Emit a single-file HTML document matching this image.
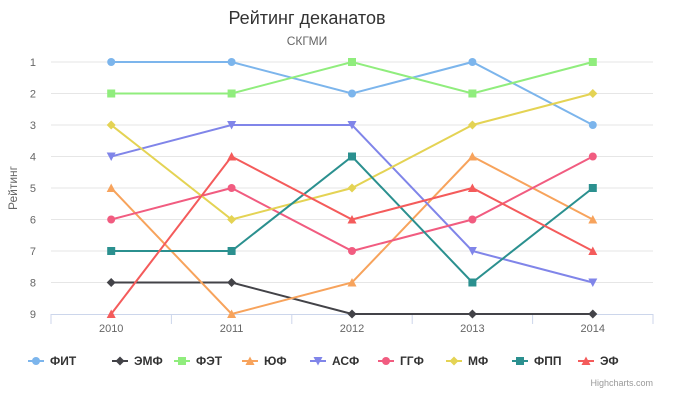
<!DOCTYPE html>
<html><head><meta charset="utf-8"><style>
body{margin:0;background:#fff;font-family:"Liberation Sans","DejaVu Sans",sans-serif}
svg text{font-family:"Liberation Sans","DejaVu Sans",sans-serif}
</style></head><body>
<svg id="c" width="673" height="404"></svg>
<script>
const categories=["2010","2011","2012","2013","2014"];
const yTicks=[1,2,3,4,5,6,7,8,9];
const seriesNames=["ФИТ","ЭМФ","ФЭТ","ЮФ","АСФ","ГГФ","МФ","ФПП","ЭФ"];
const sFIT=[1,1,2,1,3];
const sEMF=[8,8,9,9,9];
const sFET=[2,2,1,2,1];
const sUF=[5,9,8,4,6];
const sASF=[4,3,3,7,8];
const sGGF=[6,5,7,6,4];
const sMF=[3,6,5,3,2];
const sFPP=[7,7,4,8,5];
const sEF=[9,4,6,5,7];
const allSeries=[sFIT,sEMF,sFET,sUF,sASF,sGGF,sMF,sFPP,sEF];
const colors=["#7cb5ec","#434348","#90ed7d","#f7a35c","#8085e9","#f15c80","#e4d354","#2b908f","#f45b5b"];
const symbols=["circle","diamond","square","triangle","triangle-down","circle","diamond","square","triangle"];
const legendX=[36,120,182,250,318,386,454,520,586];
const NS="http://www.w3.org/2000/svg";
const svg=document.getElementById('c');
const L=51,R=653,T=62,B=314;
const bw=(R-L)/categories.length;
const x=i=>L+bw*(i+0.5);
const y=v=>T+(v-1)*(B-T)/8;
function mk(t,a,p){const e=document.createElementNS(NS,t);for(const k in a)e.setAttribute(k,a[k]);(p||svg).appendChild(e);return e;}
function sym(s,cx,cy,c,g){
 if(s==="circle")return mk('circle',{cx,cy,r:4,fill:c},g);
 if(s==="square")return mk('rect',{x:cx-4,y:cy-4,width:8,height:8,fill:c},g);
 if(s==="diamond")return mk('path',{d:`M${cx} ${cy-4.5}L${cx+4.5} ${cy}L${cx} ${cy+4.5}L${cx-4.5} ${cy}Z`,fill:c},g);
 if(s==="triangle")return mk('path',{d:`M${cx} ${cy-4.5}L${cx+4.5} ${cy+4}L${cx-4.5} ${cy+4}Z`,fill:c},g);
 return mk('path',{d:`M${cx} ${cy+4.5}L${cx+4.5} ${cy-4}L${cx-4.5} ${cy-4}Z`,fill:c},g);
}
let e;
e=mk('text',{x:307,y:24,'text-anchor':'middle','font-size':18,fill:'#333'});e.textContent="Рейтинг деканатов";

e=mk('text',{x:307,y:45,'text-anchor':'middle','font-size':12,fill:'#666'});e.textContent="СКГМИ";

e=mk('text',{x:17,y:188,'text-anchor':'middle','font-size':12,fill:'#666',transform:'rotate(-90 17 188)'});e.textContent="Рейтинг";

yTicks.forEach(v=>{
 if(v<9){e=mk('line',{x1:L,x2:R,y1:y(v),y2:y(v),stroke:'#e6e6e6'});}
 e=mk('text',{x:36,y:y(v)+4,'text-anchor':'end','font-size':11,fill:'#666'});e.textContent=v;
 
});
e=mk('line',{x1:L,x2:R,y1:B+0.5,y2:B+0.5,stroke:'#ccd6eb'});
for(let i=0;i<=categories.length;i++){e=mk('line',{x1:L+bw*i,x2:L+bw*i,y1:B,y2:B+10,stroke:'#ccd6eb'});}
categories.forEach((c,i)=>{e=mk('text',{x:x(i),y:B+18,'text-anchor':'middle','font-size':11,fill:'#666'});e.textContent=c;
 });
allSeries.forEach((s,k)=>{
 const g=mk('g',{});
 const p=mk('path',{d:s.map((v,i)=>(i?'L':'M')+x(i)+' '+y(v)).join(''),fill:'none',stroke:colors[k],'stroke-width':2},g);
 
 s.forEach((v,i)=>{const m=sym(symbols[k],x(i),y(v),colors[k],g);});
 const lg=mk('g',{});
 const lx=legendX[k];
 mk('line',{x1:lx-8,x2:lx+8,y1:361,y2:361,stroke:colors[k],'stroke-width':2},lg);
 sym(symbols[k],lx,361,colors[k],lg);
 const t=mk('text',{x:lx+14,y:365,'font-size':12,'font-weight':'bold',fill:'#333'},lg);t.textContent=seriesNames[k];
});
e=mk('text',{x:653,y:386,'text-anchor':'end','font-size':9,fill:'#999'});e.textContent="Highcharts.com";

</script>
</body></html>
